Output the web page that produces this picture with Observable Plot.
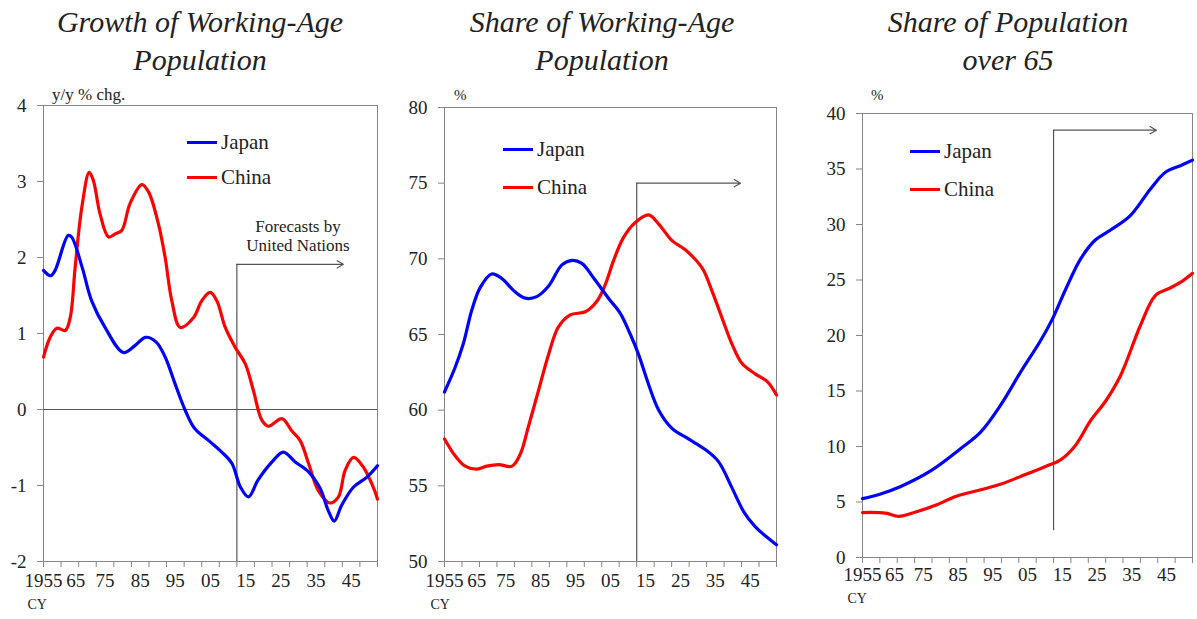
<!DOCTYPE html>
<html><head><meta charset="utf-8">
<script src="https://cdn.jsdelivr.net/npm/d3@7"></script>
<script src="https://cdn.jsdelivr.net/npm/@observablehq/plot@0.6"></script>
<style>
body{margin:0;background:#fff;}
#c{position:relative;width:1197px;height:619px;overflow:hidden;font-family:"Liberation Serif","Times New Roman",serif;color:#222;}
.title{position:absolute;top:3px;width:400px;font-style:italic;font-size:30px;line-height:38px;text-align:center;white-space:nowrap;}
.plot{position:absolute;top:80px;}
.leg{position:absolute;font-size:21px;line-height:24px;height:24px;display:flex;align-items:center;white-space:nowrap;}
.sw{display:inline-block;width:30px;height:3px;margin-right:4px;}
.note{position:absolute;white-space:nowrap;}
</style></head>
<body><div id="c"></div>
<script>
// ---------- data ----------
const xTicks = d3.range(1955, 2051, 5);
const xLabelYears = [1955, 1965, 1975, 1985, 1995, 2005, 2015, 2025, 2035, 2045];
const xLabelText = ["1955", "65", "75", "85", "95", "05", "15", "25", "35", "45"];
const forecastStart = 2010;

// Panel 1: growth of working-age population (y/y % chg.)
const growthJapan = [[1955,1.83],[1957,1.76],[1958.3,1.83],[1962,2.29],[1963,2.27],[1966,1.87],[1968.7,1.43],[1972.5,1.08],[1977.7,0.75],[1981,0.84],[1984,0.95],[1987,0.89],[1989.6,0.69],[1992.4,0.34],[1995.3,-0.01],[1998,-0.25],[2002,-0.41],[2005.7,-0.56],[2008.6,-0.71],[2011,-1.02],[2013.3,-1.15],[2016,-0.93],[2020,-0.69],[2023.2,-0.56],[2026.6,-0.69],[2030.4,-0.82],[2033.7,-1.04],[2036,-1.33],[2037.7,-1.47],[2039.8,-1.26],[2043.2,-1.02],[2047,-0.89],[2050,-0.74]];
const growthChina = [[1955,0.69],[1956.9,0.95],[1958.8,1.07],[1961.2,1.04],[1962.6,1.21],[1964,1.87],[1965.9,2.66],[1968,3.12],[1969.2,3.01],[1971.1,2.57],[1973.5,2.27],[1975.4,2.31],[1977.3,2.36],[1979.6,2.71],[1983,2.96],[1984.9,2.86],[1987.7,2.44],[1989.6,2.0],[1991.5,1.43],[1993.9,1.08],[1997.7,1.21],[2000,1.43],[2002.4,1.54],[2004.3,1.43],[2006.7,1.08],[2009.5,0.82],[2012.4,0.6],[2014.7,0.25],[2017.1,-0.14],[2019,-0.22],[2022.8,-0.12],[2025.6,-0.28],[2028,-0.41],[2030.4,-0.71],[2033.2,-1.07],[2036.5,-1.23],[2038.9,-1.15],[2040.8,-0.8],[2043.2,-0.63],[2046,-0.76],[2048.4,-0.98],[2050,-1.18]];

// Panel 2: share of working-age population (%)
const shareWAJapan = [[1955,61.2],[1958,62.8],[1960.4,64.4],[1962.8,66.6],[1965.2,68.1],[1968.5,69.0],[1971.4,68.7],[1974.8,67.9],[1978.1,67.4],[1981.4,67.5],[1984.8,68.2],[1988.6,69.6],[1991.5,69.9],[1994.3,69.7],[1998.1,68.6],[2001.9,67.4],[2005.3,66.4],[2008.2,65.0],[2010.5,63.7],[2013.4,61.7],[2016.3,60.0],[2020.1,58.8],[2024.8,58.1],[2029.6,57.4],[2033.4,56.6],[2037.2,54.9],[2040.6,53.3],[2043.9,52.3],[2047.3,51.6],[2050,51.1]];
const shareWAChina = [[1955,58.1],[1958,57.0],[1960.9,56.3],[1964.3,56.1],[1967.1,56.3],[1970.5,56.4],[1974.3,56.3],[1976.7,57.1],[1979,58.9],[1981.9,61.3],[1984.8,63.7],[1987.6,65.5],[1991,66.3],[1995.3,66.5],[1998.6,67.2],[2001,68.3],[2003.4,69.9],[2006.2,71.4],[2009.6,72.4],[2013.4,72.9],[2016.3,72.3],[2020.1,71.2],[2023.9,70.6],[2028.7,69.4],[2031.5,67.9],[2034.4,66.1],[2037.2,64.4],[2040.1,63.1],[2043.9,62.4],[2047.3,61.9],[2050,61.0]];

// Panel 3: share of population over 65 (%)
const over65Japan = [[1955,5.3],[1960,5.7],[1966,6.4],[1974.6,7.8],[1983.2,9.8],[1989,11.3],[1994.7,13.7],[2000.5,16.7],[2006.2,19.5],[2009.7,21.5],[2013.4,24.1],[2017.8,26.9],[2022,28.6],[2026.4,29.5],[2032.1,30.8],[2037.9,33.2],[2042.2,34.7],[2046.5,35.3],[2050,35.8]];
const over65China = [[1955,4.05],[1961.6,4.0],[1965.4,3.7],[1970.3,4.1],[1976,4.7],[1981.8,5.5],[1989,6.1],[1994.7,6.6],[2000.5,7.3],[2007.7,8.2],[2012,8.8],[2016.3,10.1],[2020.6,12.3],[2025,14.1],[2029.3,16.4],[2035,20.9],[2039.3,23.6],[2043.7,24.3],[2047.1,24.9],[2050,25.6]];

// Forecast annotation: [vertical start value, arrow level, arrow end year]
const forecastMarks1 = [-2, 1.91, 2040.3];
const forecastMarks2 = [50, 75.0, 2039.7];
const forecastMarks3 = [2.4, 38.5, 2039.6];

const titles = [["Growth of Working-Age", "Population"], ["Share of Working-Age", "Population"], ["Share of Population", "over 65"]];
const seriesNames = ["Japan", "China"];
const seriesColors = ["#0000ff", "#ff0000"];

// ---------- drawing ----------
const c = document.getElementById("c");
const frameColor = "#858585";
// category-style label placement (labels sit between 5-year ticks; first two pushed apart as in source)
const labelX = d => d === 1955 ? d : d === 1965 ? d - 0.8 : d - 2.5;

function panel(o) {
  const marks = [
    Plot.frame({stroke: frameColor}),
    Plot.axisY({ticks: o.yTicks, tickSize: 6, tickPadding: 11, stroke: frameColor, fill: "#222", tickFormat: d => String(d), label: null}),
    Plot.axisX({ticks: xTicks, tickSize: 6, stroke: frameColor, tickFormat: () => "", label: null}),
    Plot.text(xLabelYears, {x: labelX, text: (d, i) => xLabelText[i], frameAnchor: "bottom", dy: o.labelDy, fill: "#222"}),
    Plot.text(["CY"], {frameAnchor: "bottom-left", dx: o.cyDx, dy: o.cyDy, fontSize: 14, fill: "#222"}),
    Plot.ruleX([forecastStart], {y1: o.fc[0], y2: o.fc[1], stroke: "#555", strokeWidth: 1.2}),
    Plot.arrow([0], {x1: forecastStart, y1: o.fc[1], x2: o.fc[2], y2: o.fc[1], stroke: "#555", strokeWidth: 1.2, headLength: 9}),
  ];
  if (o.zero) marks.push(Plot.ruleY([0], {stroke: "#555", strokeWidth: 1.2}));
  marks.push(Plot.line(o.china, {x: d => d[0], y: d => d[1], stroke: seriesColors[1], strokeWidth: 3.2, curve: "catmull-rom"}));
  marks.push(Plot.line(o.japan, {x: d => d[0], y: d => d[1], stroke: seriesColors[0], strokeWidth: 3.2, curve: "catmull-rom"}));
  const p = Plot.plot({
    width: o.width, height: 539,
    marginLeft: o.ml, marginRight: o.mr, marginTop: o.mt, marginBottom: o.mb,
    x: {domain: [1955, 2050]},
    y: {domain: o.yDomain},
    style: {fontFamily: "'Liberation Serif', 'Times New Roman', serif", fontSize: "19px", color: "#222", background: "transparent", overflow: "visible"},
    marks
  });
  const d = document.createElement("div");
  d.className = "plot";
  d.style.left = o.left + "px";
  d.appendChild(p);
  c.appendChild(d);
}

panel({left: 0, width: 395, ml: 43, mr: 18, mt: 25, mb: 58, yDomain: [-2, 4], yTicks: d3.range(-2, 5, 1),
  japan: growthJapan, china: growthChina, fc: forecastMarks1, zero: true, labelDy: 25, cyDx: -16, cyDy: 47});
panel({left: 395, width: 395, ml: 49, mr: 14, mt: 27, mb: 58, yDomain: [50, 80], yTicks: d3.range(50, 81, 5),
  japan: shareWAJapan, china: shareWAChina, fc: forecastMarks2, zero: false, labelDy: 25, cyDx: -14, cyDy: 47});
panel({left: 790, width: 407, ml: 72, mr: 5, mt: 33, mb: 62, yDomain: [0, 40], yTicks: d3.range(0, 41, 5),
  japan: over65Japan, china: over65China, fc: forecastMarks3, zero: false, labelDy: 23, cyDx: -15, cyDy: 45});

// titles
const titleCenters = [200, 602, 1008];
titles.forEach((t, i) => {
  const d = document.createElement("div");
  d.className = "title";
  d.style.left = (titleCenters[i] - 200) + "px";
  d.innerHTML = t[0] + "<br>" + t[1];
  c.appendChild(d);
});

// legends
const legendPos = [[187, 130, 165], [503, 137, 175], [910, 139, 177]];
legendPos.forEach(([x, y1, y2]) => {
  [y1, y2].forEach((y, k) => {
    const d = document.createElement("div");
    d.className = "leg";
    d.style.left = x + "px";
    d.style.top = y + "px";
    d.innerHTML = `<span class="sw" style="background:${seriesColors[k]}"></span>${seriesNames[k]}`;
    c.appendChild(d);
  });
});

// notes
function note(text, left, top, size, extra) {
  const d = document.createElement("div");
  d.className = "note";
  d.style.left = left + "px";
  d.style.top = top + "px";
  d.style.fontSize = size + "px";
  if (extra) Object.assign(d.style, extra);
  d.innerHTML = text;
  c.appendChild(d);
}
note("y/y % chg.", 52, 85, 17);
note("%", 454, 87, 15);
note("%", 871, 87, 15);
note("Forecasts by<br>United Nations", 238, 217, 17, {width: "120px", textAlign: "center", lineHeight: "19px"});
</script>
</body></html>
